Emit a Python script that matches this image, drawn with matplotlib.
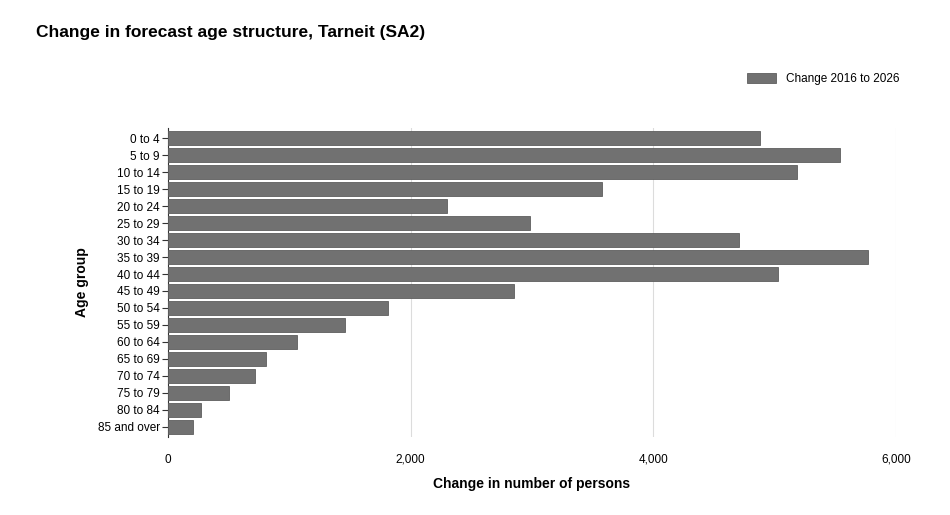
import matplotlib.pyplot as plt
import numpy as np

ages = ["0 to 4", "5 to 9", "10 to 14", "15 to 19", "20 to 24", "25 to 29",
        "30 to 34", "35 to 39", "40 to 44", "45 to 49", "50 to 54", "55 to 59",
        "60 to 64", "65 to 69", "70 to 74", "75 to 79", "80 to 84", "85 and over"]
change = [4880, 5540, 5180, 3580, 2300, 2980, 4710, 5770, 5030, 2850,
          1810, 1460, 1060, 810, 720, 500, 270, 210]

plt.rcParams["font.family"] = ["Arial", "Liberation Sans", "DejaVu Sans"]
fig = plt.figure(figsize=(9.5, 5.15), dpi=100)
ax = fig.add_axes([168 / 950, 1 - 437 / 515, 728 / 950, 309 / 515])

y = np.arange(len(ages))
ax.barh(y, change, height=0.85, color="#717171", edgecolor="#5e5e5e", lw=0.6,
        label="Change 2016 to 2026", zorder=3)
ax.set_ylim(len(ages) - 0.4, -0.6)
ax.set_xlim(0, 6000)
ax.set_yticks(y)
ax.set_yticklabels(ages, fontsize=8.5)
ax.set_xticks([0, 2000, 4000, 6000])
ax.set_xticklabels(["0", "2,000", "4,000", "6,000"], fontsize=8.5)
ax.xaxis.grid(True, color="#dcdcdc", lw=0.8, zorder=0)
for s in ["top", "right", "bottom"]:
    ax.spines[s].set_visible(False)
ax.spines["left"].set_color("#333333")
ax.tick_params(axis="x", length=0, pad=12)
ax.tick_params(axis="y", length=4, color="#333333", pad=2)
ax.set_xlabel("Change in number of persons", fontsize=10, fontweight="bold", labelpad=8)
ax.set_ylabel("Age group", fontsize=10, fontweight="bold", labelpad=6)

fig.text(36 / 950, 1 - 32 / 515, "Change in forecast age structure, Tarneit (SA2)",
         fontsize=12.5, fontweight="bold", va="center")
fig.legend(loc="center right", bbox_to_anchor=(910 / 950, 1 - 79 / 515),
           frameon=False, fontsize=8.5, handlelength=2.5, handleheight=0.9)

fig.savefig("out.png", dpi=100)
